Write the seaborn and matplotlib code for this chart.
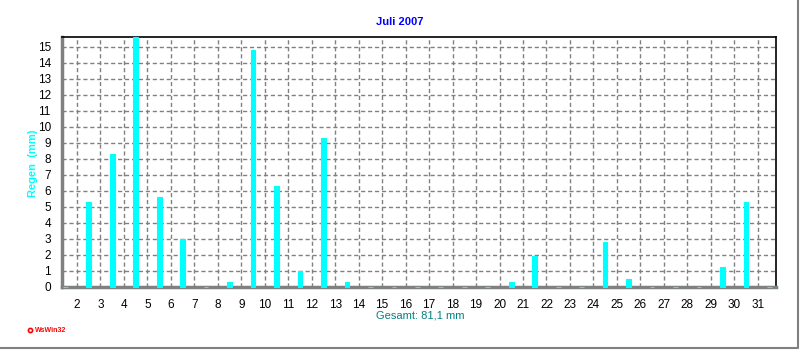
import matplotlib
matplotlib.use("Agg")
import matplotlib.pyplot as plt
from matplotlib.lines import Line2D
from matplotlib.ticker import MultipleLocator
import numpy as np
import pandas as pd
import seaborn as sns

# ---- data ----
days = list(range(1, 32))
rain_mm = [0.0, 5.3, 8.3, 15.6, 5.6, 3.0, 0.0, 0.3, 14.8, 6.3,
           1.0, 9.3, 0.3, 0.0, 0.0, 0.0, 0.0, 0.0, 0.0, 0.3,
           1.9, 0.0, 0.0, 2.8, 0.5, 0.0, 0.0, 0.0, 1.2, 5.3, 0.0]
x_tick_labels = [str(d) for d in range(2, 32)]
y_ticks = list(range(0, 16))
title = "Juli 2007"
ylabel = "Regen  (mm)"
xlabel = "Gesamt: 81,1 mm"
brand = "WsWin32"

sns.set_style("white")
plt.rcParams['font.family'] = ['Liberation Sans', 'DejaVu Sans']

df = pd.DataFrame({"pos": [d + 0.5 for d in days], "rain": rain_mm})

fig = plt.figure(figsize=(8, 3.5), dpi=100)
ax = fig.add_axes([62 / 800, 1 - 286.5 / 350, (776 - 62) / 800, (286.5 - 37) / 350])

sns.barplot(data=df, x="pos", y="rain", native_scale=True, width=0.2,
            color="#00FFFF", saturation=1, edgecolor="#00FFFF", linewidth=0.8,
            ax=ax, zorder=3)
for p in ax.patches:
    p.set_clip_on(False)
    p.set_zorder(4)

ax.set_xlim(1.36, 31.78)
ax.set_ylim(0, max(rain_mm))

ax.set_xticks(range(2, 32))
ax.set_xticklabels(x_tick_labels)
ax.set_yticks(y_ticks)
ax.xaxis.set_minor_locator(MultipleLocator(0.25))
ax.yaxis.set_minor_locator(MultipleLocator(0.2))

ax.grid(True, which="major", color="#808080", linestyle=(0, (3, 2)), linewidth=1)
ax.set_axisbelow(True)

ax.tick_params(axis="both", which="major", direction="out", length=4, width=1,
               color="#808080", labelsize=8.5, labelcolor="black", pad=4)
ax.tick_params(axis="both", which="minor", direction="out", length=2, width=1,
               color="#808080")
ax.tick_params(axis="x", which="major", pad=5)

for side in ["left", "bottom"]:
    ax.spines[side].set_color("#808080")
    ax.spines[side].set_linewidth(2.5)
for side in ["top", "right"]:
    ax.spines[side].set_color("black")
    ax.spines[side].set_linewidth(1.2)

ax.set_xlabel("")
ax.set_ylabel("")

fig.text(0.5, 1 - 22 / 350, title, ha="center", va="center", color="#0000FF",
         fontsize=8, fontweight="bold")
fig.text(33 / 800, 1 - 163 / 350, ylabel, ha="center", va="center", rotation=90,
         color="#00FFFF", fontsize=8, fontweight="bold")
fig.text(420 / 800, 1 - 315 / 350, xlabel, ha="center", va="center",
         color="#008080", fontsize=8)
fig.text(35 / 800, 1 - 330 / 350, brand, ha="left", va="center",
         color="#FF0000", fontsize=5, fontweight="bold")
fig.add_artist(Line2D([30 / 800], [1 - 330 / 350], marker="o", markersize=3,
                      markerfacecolor="white", markeredgecolor="#FF0000",
                      markeredgewidth=1.2, transform=fig.transFigure))

# window border (right and bottom)
fig.add_artist(Line2D([0, 797.5 / 800, 797.5 / 800], [1 - 348 / 350, 1 - 348 / 350, 1],
                      color="#808080", linewidth=1.5, transform=fig.transFigure))

fig.savefig("out.png", dpi=100)
